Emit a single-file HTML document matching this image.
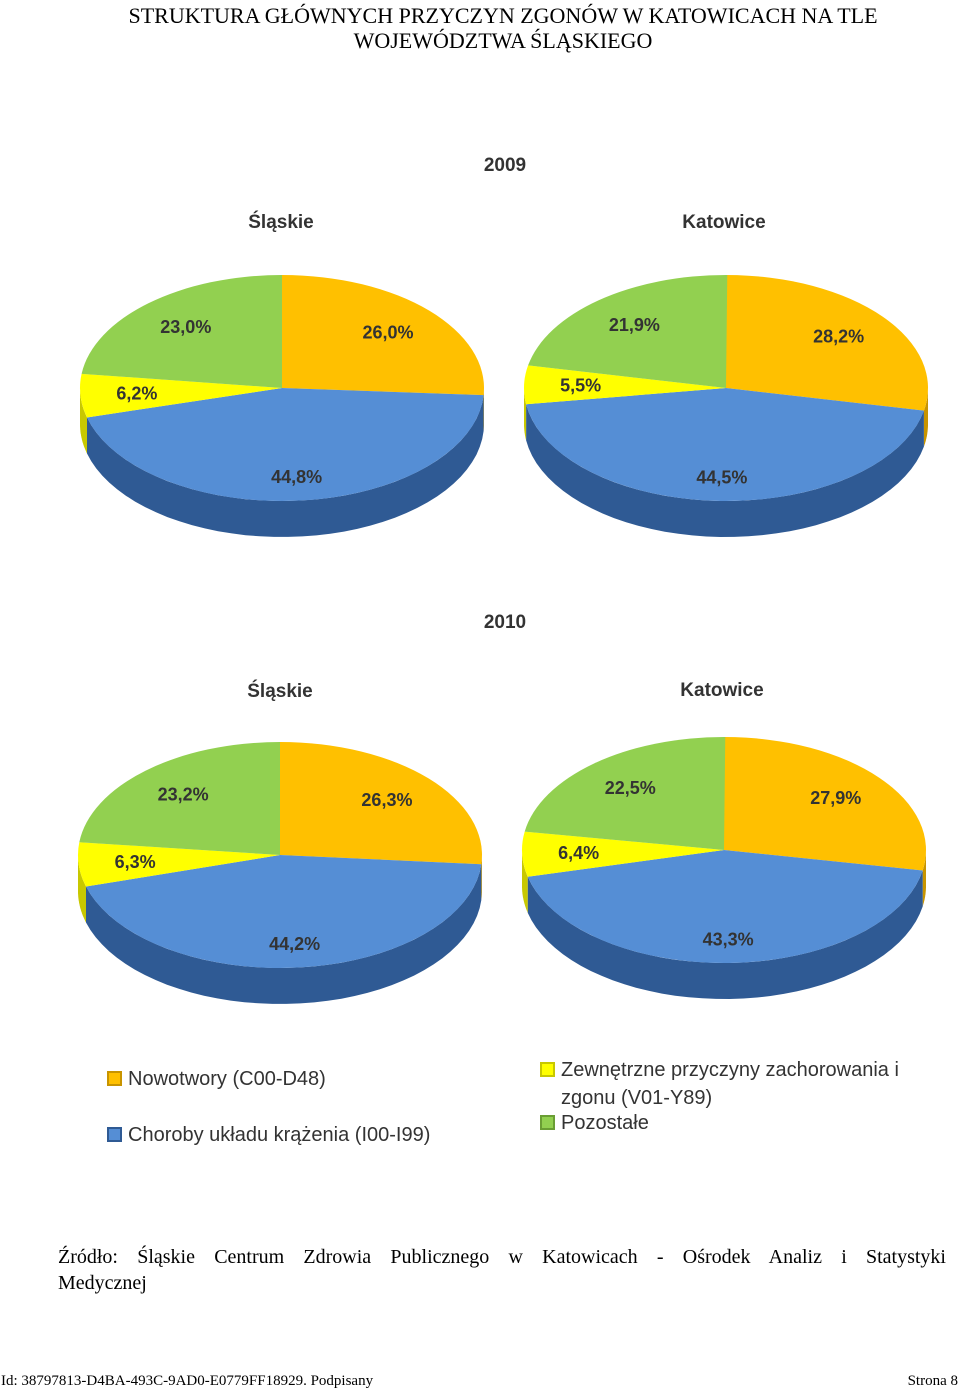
<!DOCTYPE html>
<html><head><meta charset="utf-8">
<style>
body{margin:0;background:#fff;width:960px;height:1392px;position:relative;overflow:hidden;font-family:"Liberation Serif",serif}
.hdr{position:absolute;top:3px;left:0;width:1006px;text-align:center;font-size:22px;line-height:25px;color:#000}
.src{position:absolute;top:1244px;left:58px;width:888px;font-size:20px;line-height:26px;text-align:justify;text-align-last:justify}
.src2{position:absolute;top:1270px;left:58px;font-size:20px;line-height:26px}
.foot{position:absolute;top:1373px;left:1px;font-size:15px}
.foot2{position:absolute;top:1373px;right:2px;font-size:15px}
svg{position:absolute;left:0;top:0}
</style></head><body>
<div class="hdr">STRUKTURA GŁÓWNYCH PRZYCZYN ZGONÓW W KATOWICACH NA TLE<br>WOJEWÓDZTWA ŚLĄSKIEGO</div>
<svg id="chart" width="960" height="1392"></svg>
<div class="src">Źródło: Śląskie Centrum Zdrowia Publicznego w Katowicach - Ośrodek Analiz i Statystyki</div>
<div class="src2">Medycznej</div>
<div class="foot">Id: 38797813-D4BA-493C-9AD0-E0779FF18929. Podpisany</div>
<div class="foot2">Strona 8</div>
<script>
const categories=["Nowotwory (C00-D48)","Choroby układu krążenia (I00-I99)","Zewnętrzne przyczyny zachorowania i zgonu (V01-Y89)","Pozostałe"];
const slaskie2009=[26.0,44.8,6.2,23.0];
const katowice2009=[28.2,44.5,5.5,21.9];
const slaskie2010=[26.3,44.2,6.3,23.2];
const katowice2010=[27.9,43.3,6.4,22.5];
const valueLabels2009S=["26,0%","44,8%","6,2%","23,0%"];
const valueLabels2009K=["28,2%","44,5%","5,5%","21,9%"];
const valueLabels2010S=["26,3%","44,2%","6,3%","23,2%"];
const valueLabels2010K=["27,9%","43,3%","6,4%","22,5%"];

const NS="http://www.w3.org/2000/svg";
const svgEl=document.getElementById('chart');
const topColors=["#FFC000","#558ED5","#FFFF00","#92D050"];
const sideColors=["#C89400","#2F5A94","#C8C800","#6A9E34"];
function mk(t,a){const e=document.createElementNS(NS,t);for(const k in a)e.setAttribute(k,a[k]);svgEl.appendChild(e);return e;}
function pt(cx,cy,rx,ry,th,dy){return [cx+rx*Math.sin(th),cy-ry*Math.cos(th)+(dy||0)];}
function txt(x,y,s,size,name){const t=mk('text',{x:x,y:y,'font-family':'Liberation Sans, sans-serif','font-weight':'bold','font-size':size,'text-anchor':'middle',fill:'#333'});t.textContent=s;return t;}
function pie(cx,cy,vals,labels,name){
  const rx=202,ry=113,D=36;
  let a=0;const sl=[];
  vals.forEach((v,i)=>{const a2=a+v/100*2*Math.PI;sl.push([a,a2]);a=a2;});
  sl.forEach(([a1,a2],i)=>{
    const s=Math.max(a1,Math.PI/2),e=Math.min(a2,3*Math.PI/2);
    if(e<=s)return;
    let d='';const N=40;
    for(let k=0;k<=N;k++){const p=pt(cx,cy,rx,ry,s+(e-s)*k/N);d+=(k?'L':'M')+p[0].toFixed(1)+','+p[1].toFixed(1);}
    for(let k=N;k>=0;k--){const p=pt(cx,cy,rx,ry,s+(e-s)*k/N,D);d+='L'+p[0].toFixed(1)+','+p[1].toFixed(1);}
    const el=mk('path',{d:d+'Z',fill:sideColors[i]});
    
    
  });
  sl.forEach(([a1,a2],i)=>{
    const p1=pt(cx,cy,rx,ry,a1),p2=pt(cx,cy,rx,ry,a2);
    const large=(a2-a1)>Math.PI?1:0;
    const el=mk('path',{d:`M${cx},${cy}L${p1[0]},${p1[1]}A${rx},${ry} 0 ${large} 1 ${p2[0]},${p2[1]}Z`,fill:topColors[i]});
    
    
  });
  sl.forEach(([a1,a2],i)=>{
    const m=(a1+a2)/2;const lp=pt(cx,cy,rx*0.72,ry*0.72,m);
    const off=i===1?14:6;
    txt(lp[0],lp[1]+off,labels[i],18,name+'-label-'+i);
  });
}
txt(505,171,"2009",19,"title-2009");
txt(281,228,"Śląskie",19,"title-slaskie-2009");
txt(724,228,"Katowice",19,"title-katowice-2009");
pie(282,388,slaskie2009,valueLabels2009S,"pie-slaskie-2009");
pie(726,388,katowice2009,valueLabels2009K,"pie-katowice-2009");
txt(505,628,"2010",19,"title-2010");
txt(280,697,"Śląskie",19,"title-slaskie-2010");
txt(722,696,"Katowice",19,"title-katowice-2010");
pie(280,855,slaskie2010,valueLabels2010S,"pie-slaskie-2010");
pie(724,850,katowice2010,valueLabels2010K,"pie-katowice-2010");
const leg=[[108,1085,0,[categories[0]]],[108,1141,1,[categories[1]]],[541,1076,2,["Zewnętrzne przyczyny zachorowania i","zgonu (V01-Y89)"]],[541,1129,3,[categories[3]]]];
leg.forEach(([x,y,i,lines])=>{
  const r=mk('rect',{x:x,y:y-13,width:13,height:13,fill:topColors[i],stroke:sideColors[i],'stroke-width':2});
  
  
  lines.forEach((l,j)=>{
    const t=mk('text',{x:x+20,y:y+j*28,'font-family':'Liberation Sans, sans-serif','font-size':20,fill:'#333'});
    t.textContent=l;
    
    
  });
});
</script>
</body></html>
